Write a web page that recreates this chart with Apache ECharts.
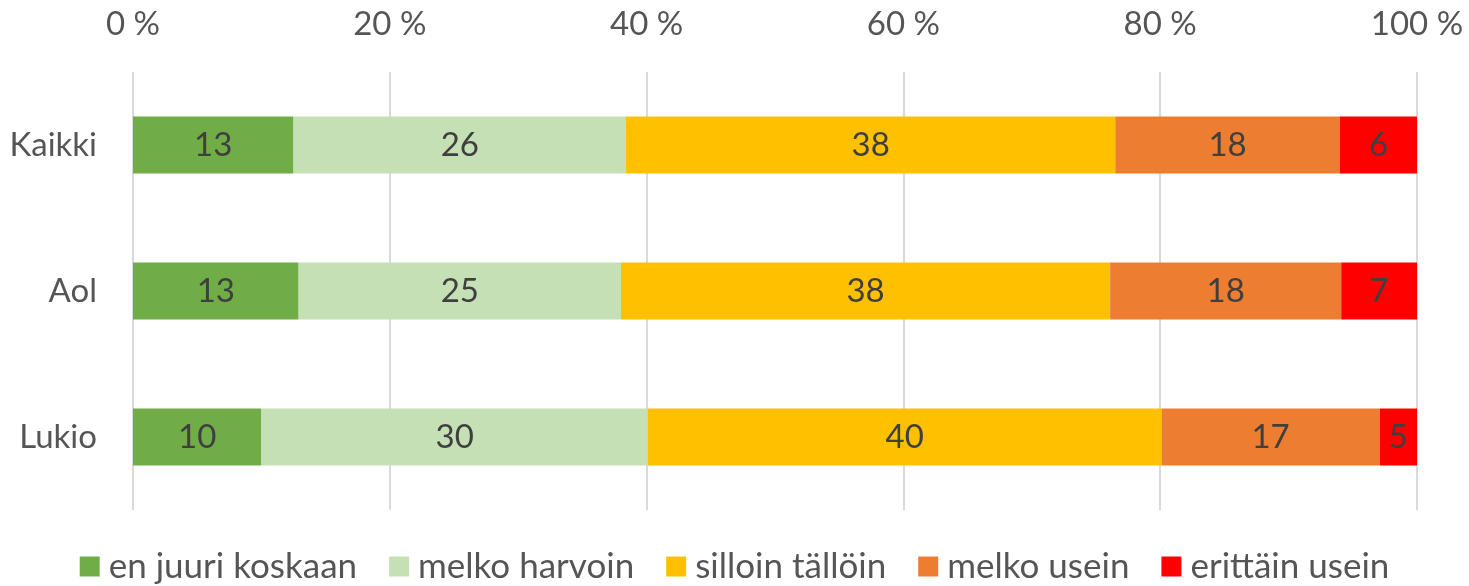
<!DOCTYPE html>
<html>
<head>
<meta charset="utf-8">
<script src="https://cdn.jsdelivr.net/npm/echarts@6/dist/echarts.min.js"></script>
<style>
html,body{margin:0;padding:0;background:#fff;}
#chart{width:1469px;height:586px;}
</style>
</head>
<body>
<div id="chart"></div>
<script>
const categories = ['Kaikki', 'Aol', 'Lukio'];
const seriesNames = ['en juuri koskaan', 'melko harvoin', 'silloin tällöin', 'melko usein', 'erittäin usein'];
const enJuuriKoskaan = [12.5, 12.9, 10.0];
const melkoHarvoin = [25.9, 25.1, 30.1];
const silloinTalloin = [38.1, 38.1, 40.0];
const melkoUsein = [17.5, 18.0, 17.0];
const erittainUsein = [6.0, 7.0, 5.0];
const colors = ['#70AD47', '#C5E0B4', '#FFC000', '#ED7D31', '#FF0000'];
const FONT = 'Lato';

const values = [enJuuriKoskaan, melkoHarvoin, silloinTalloin, melkoUsein, erittainUsein];

const chart = echarts.init(document.getElementById('chart'));
chart.setOption({
  animation: false,
  backgroundColor: '#fff',
  textStyle: { fontFamily: FONT },
  grid: { left: 133, right: 52, top: 72, bottom: 76, containLabel: false },
  legend: {
    bottom: -3,
    left: 'center',
    itemWidth: 20,
    itemHeight: 20,
    itemGap: 32,
    icon: 'rect',
    textStyle: { fontFamily: FONT, fontSize: 35, color: '#555555', padding: [0, 0, 0, 4] },
    data: seriesNames
  },
  xAxis: {
    type: 'value',
    position: 'top',
    min: 0,
    max: 100,
    interval: 20,
    axisLine: { show: false },
    axisTick: { show: false },
    splitLine: { show: true, lineStyle: { color: '#D9D9D9', width: 2 } },
    axisLabel: { formatter: v => v + ' %', fontFamily: FONT, fontSize: 33, color: '#555555', margin: 31 }
  },
  yAxis: {
    type: 'category',
    inverse: true,
    data: categories,
    axisLine: { show: false },
    axisTick: { show: false },
    axisLabel: { fontFamily: FONT, fontSize: 33, color: '#555555', margin: 36 }
  },
  series: seriesNames.map((name, i) => ({
    name,
    type: 'bar',
    stack: 'total',
    barWidth: 57,
    clip: true,
    itemStyle: { color: colors[i] },
    label: {
      show: true,
      position: 'inside',
      formatter: p => Math.round(p.value),
      fontFamily: FONT,
      fontSize: 33,
      color: '#3F3F3F'
    },
    data: values[i]
  }))
});
</script>
</body>
</html>
